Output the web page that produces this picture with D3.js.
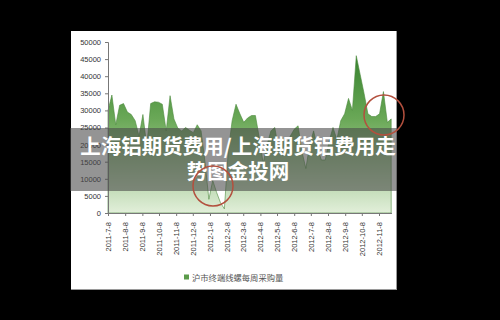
<!DOCTYPE html>
<html><head><meta charset="utf-8">
<script src="https://cdn.jsdelivr.net/npm/d3@7"></script>
<style>html,body{margin:0;padding:0;background:#000;}svg{display:block}</style>
</head><body>
<script>
// ---- data ----
const startDate = "2011-07-08";           // first weekly observation
const weeklyValues = [
  30000, 34500, 25800, 31500, 32000, 29500, 28800, 27000, 22500, 28800,
  19500, 32000, 32500, 32400, 31800, 24000, 34300, 27500, 24800, 24000,
  25000, 24200, 23500, 25800, 24000, 15000, 4000, 9500, 6000, 3000,
  1200, 18000, 27000, 31800, 29000, 26500, 27800, 28500, 28500, 22000,
  14500, 20000, 24000, 25000, 18500, 22000, 20000, 22500, 24500, 25500,
  18000, 13000, 20000, 24000, 19000, 15500, 15500, 21000, 25000, 21500,
  27000, 29000, 33500, 30000, 46000, 40500, 35000, 29000, 28200, 28200,
  29000, 35500, 26500, 27500
];
const xTickLabels = ["2011-7-8","2011-8-8","2011-9-8","2011-10-8","2011-11-8","2011-12-8",
  "2012-1-8","2012-2-8","2012-3-8","2012-4-8","2012-5-8","2012-6-8","2012-7-8",
  "2012-8-8","2012-9-8","2012-10-8","2012-11-8"];
const yTicks = [0,5000,10000,15000,20000,25000,30000,35000,40000,45000,50000];
const seriesName = "沪市终端线螺每周采购量";
const titleLines = ["上海铝期货费用/上海期货铝费用走","势图金投网"];

// ---- drawing ----
const W = 500, H = 320;
const svg = d3.select("body").append("svg").attr("width", W).attr("height", H);
svg.append("rect").attr("width", W).attr("height", H).attr("fill", "#000");

// panel
svg.append("rect").attr("x", 71).attr("y", 31).attr("width", 326).attr("height", 259).attr("fill", "#9a9a9a");
svg.append("rect").attr("x", 71).attr("y", 31).attr("width", 325).attr("height", 258).attr("fill", "#fff");

const parse = d3.timeParse("%Y-%m-%d");
const t0 = parse(startDate);
const data = weeklyValues.map((v, i) => ({ date: d3.timeDay.offset(t0, 7 * i), value: v }));
const tickDates = xTickLabels.map(s => d3.timeParse("%Y-%m-%d")(s));

const x = d3.scaleTime().domain([tickDates[0], tickDates[tickDates.length - 1]]).range([108, 379]);
const y = d3.scaleLinear().domain([0, 50000]).range([213, 42]);

const defs = svg.append("defs");
const grad = defs.append("linearGradient").attr("id", "g").attr("gradientUnits", "userSpaceOnUse")
  .attr("x1", 0).attr("x2", 0).attr("y1", y(50000)).attr("y2", y(0));
grad.append("stop").attr("offset", "0").attr("stop-color", "#2c7a26");
grad.append("stop").attr("offset", "0.45").attr("stop-color", "#6aa857");
grad.append("stop").attr("offset", "1").attr("stop-color", "#e2efda");

const area = d3.area().x(d => x(d.date)).y0(y(0)).y1(d => y(d.value));
svg.append("path").datum(data).attr("d", area).attr("fill", "url(#g)")
  .attr("stroke", "#4b8a3c").attr("stroke-width", 0.6);

// axes
const fontAx = "Liberation Sans, Arial, sans-serif";
const yAxis = svg.append("g").attr("transform", "translate(108,0)")
  .call(d3.axisLeft(y).tickValues(yTicks).tickSize(3).tickFormat(d3.format("d")));
yAxis.selectAll("text").attr("font-family", fontAx).attr("font-size", 7.5).attr("fill", "#333").attr("x", -7);
yAxis.selectAll("line").attr("stroke", "#777");
yAxis.select(".domain").attr("stroke", "#777");

const xAxis = svg.append("g").attr("transform", "translate(0,213)")
  .call(d3.axisBottom(x).tickValues(tickDates).tickSize(3).tickFormat((d, i) => xTickLabels[i]));
xAxis.select(".domain").attr("stroke", "#777").attr("d", "M108,0.5H392");
xAxis.selectAll("line").attr("stroke", "#777");
xAxis.selectAll("text").attr("font-family", fontAx).attr("font-size", 7.5).attr("fill", "#333")
  .attr("transform", "rotate(-90)").attr("text-anchor", "end").attr("dy", "0.32em").attr("x", -9).attr("y", 0);

// legend
svg.append("rect").attr("x", 184).attr("y", 274.5).attr("width", 5).attr("height", 5).attr("fill", "#5b9b4b");
svg.append("text").attr("x", 192).attr("y", 281).attr("font-family", "Noto Sans CJK SC").attr("font-size", 8.3)
  .attr("fill", "#555").text(seriesName);

// translucent band with title
svg.append("rect").attr("x", 70).attr("y", 128).attr("width", 327).attr("height", 63).attr("fill", "rgba(70,70,70,0.58)");
svg.selectAll("text.title").data(titleLines).join("text").attr("class", "title")
  .attr("x", 238).attr("y", (d, i) => 154 + i * 25).attr("text-anchor", "middle")
  .attr("font-family", "Noto Sans CJK SC").attr("font-weight", "bold").attr("font-size", 20.5)
  .attr("fill", "#fff").text(d => d);

// red circles
svg.append("circle").attr("cx", 213).attr("cy", 186).attr("r", 20).attr("fill", "none").attr("stroke", "#b3503e").attr("stroke-width", 1.5);
svg.append("circle").attr("cx", 384).attr("cy", 115).attr("r", 20).attr("fill", "none").attr("stroke", "#b3503e").attr("stroke-width", 1.5);
</script>
</body></html>
